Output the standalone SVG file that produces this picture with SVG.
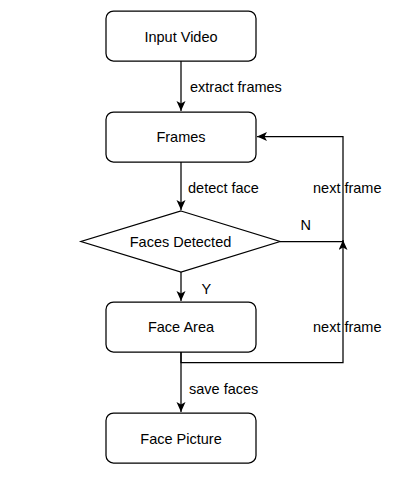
<svg xmlns="http://www.w3.org/2000/svg" width="404" height="481" viewBox="0 0 404 481">
<style>
.box{fill:#fff;stroke:#000;stroke-width:1.25}
.edge{fill:none;stroke:#000;stroke-width:1.25}
text{font-family:"Liberation Sans",Arial,Helvetica,sans-serif;font-size:14.5px;fill:#000}
.c{text-anchor:middle}
</style>
<defs>
<marker id="arr" markerUnits="userSpaceOnUse" markerWidth="12" markerHeight="10" refX="10" refY="4.5" orient="auto">
<path d="M0,0 L10,4.5 L0,9 L2.5,4.5 Z" fill="#000"/>
</marker>
</defs>
<rect width="404" height="481" fill="#fff"/>
<g id="connectors">
<path class="edge" d="M181,61 V111" marker-end="url(#arr)"/>
<path class="edge" d="M181,162 V210" marker-end="url(#arr)"/>
<path class="edge" d="M280,241.5 H343 V136.5 H257" marker-end="url(#arr)"/>
<path class="edge" d="M181,272 V301" marker-end="url(#arr)"/>
<path class="edge" d="M181,352 V362.7 H343 V240" marker-end="url(#arr)"/>
<path class="edge" d="M181,352 V412" marker-end="url(#arr)"/>
<text x="190" y="92">extract frames</text>
<text x="188" y="193">detect face</text>
<text x="313" y="193">next frame</text>
<text x="300.5" y="230">N</text>
<text x="201.5" y="294">Y</text>
<text x="313" y="332">next frame</text>
<text x="189" y="394">save faces</text>
</g>
<g id="input-video">
<rect class="box" x="106" y="11" width="150" height="50" rx="7.5"/>
<text class="c" x="181" y="42">Input Video</text>
</g>
<g id="frames">
<rect class="box" x="106" y="112" width="150" height="50" rx="7.5"/>
<text class="c" x="181" y="142">Frames</text>
</g>
<g id="faces-detected">
<path class="box" d="M181,211 L280,241.5 L181,272 L81,241.5 Z"/>
<text class="c" x="180.5" y="247">Faces Detected</text>
</g>
<g id="face-area">
<rect class="box" x="106" y="302" width="150" height="50" rx="7.5"/>
<text class="c" x="181" y="332">Face Area</text>
</g>
<g id="face-picture">
<rect class="box" x="106" y="413" width="150" height="50" rx="7.5"/>
<text class="c" x="181" y="444">Face Picture</text>
</g>
</svg>
